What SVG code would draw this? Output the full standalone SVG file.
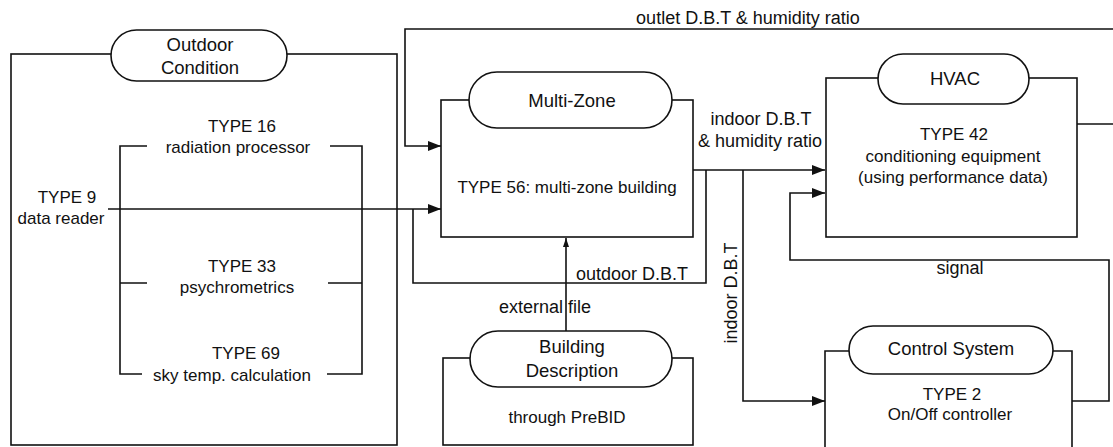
<svg xmlns="http://www.w3.org/2000/svg" width="1113" height="447" viewBox="0 0 1113 447">
<style>
.ln{fill:none;stroke:#111;stroke-width:1.6}
.bx{fill:#fff;stroke:#111;stroke-width:1.6}
.pill{fill:#fff;stroke:#111;stroke-width:1.6}
text{font-family:"Liberation Sans",Arial,sans-serif;fill:#111;text-anchor:middle}
.tt{font-size:18.5px}
.bd{font-size:17px}
.lb{font-size:18px}
</style>
<defs>
<marker id="ah" markerUnits="userSpaceOnUse" markerWidth="14" markerHeight="11" refX="13" refY="5" orient="auto">
<path d="M0,0 L13,5 L0,10 z" fill="#111"/>
</marker>
<marker id="ahs" markerUnits="userSpaceOnUse" markerWidth="10" markerHeight="7" refX="9" refY="3" orient="auto">
<path d="M0,0 L9,3 L0,6 z" fill="#111"/>
</marker>
</defs>

<g id="outdoor">
<rect class="bx" x="11" y="54" width="386" height="391"/>
<rect class="pill" x="111" y="30" width="176" height="51" rx="25.5"/>
<text class="tt" x="200" y="51">Outdoor</text>
<text class="tt" x="200" y="74">Condition</text>
<path class="ln" d="M147,146 H120 V374 H142 M120,283 H147 M330,146 H362 V374 H327 M328,283 H362"/>
<text class="bd" x="242" y="132">TYPE 16</text>
<text class="bd" x="238" y="153">radiation processor</text>
<text class="bd" x="242" y="272">TYPE 33</text>
<text class="bd" x="237" y="293">psychrometrics</text>
<text class="bd" x="246" y="359">TYPE 69</text>
<text class="bd" x="232" y="381">sky temp. calculation</text>
<text class="bd" x="67" y="203">TYPE 9</text>
<text class="bd" x="61" y="224">data reader</text>
</g>

<g id="multizone">
<rect class="bx" x="441" y="100" width="252" height="137"/>
<rect class="pill" x="469" y="72" width="203" height="56" rx="28"/>
<text class="tt" x="572" y="107">Multi-Zone</text>
<text class="bd" x="567" y="193">TYPE 56: multi-zone building</text>
</g>

<g id="hvac">
<rect class="bx" x="826" y="78" width="251" height="159"/>
<rect class="pill" x="878" y="54" width="151" height="50" rx="25"/>
<text class="tt" x="955" y="85">HVAC</text>
<text class="bd" x="954" y="140">TYPE 42</text>
<text class="bd" x="953" y="162">conditioning equipment</text>
<text class="bd" x="953" y="183">(using performance data)</text>
</g>

<g id="control">
<path class="ln" d="M825,448 V351 H1072 V448"/>
<rect class="pill" x="849" y="326" width="204" height="48" rx="24"/>
<text class="tt" x="951" y="355">Control System</text>
<text class="bd" x="952" y="400">TYPE 2</text>
<text class="bd" x="950" y="420">On/Off controller</text>
</g>

<g id="building">
<rect class="bx" x="443" y="358" width="250" height="87"/>
<rect class="pill" x="470" y="331" width="202" height="56" rx="28"/>
<text class="tt" x="572" y="353">Building</text>
<text class="tt" x="572" y="377">Description</text>
<text class="bd" x="567" y="423">through PreBID</text>
</g>

<g id="connectors">
<path class="ln" d="M1113,29 H405 V146 H441" marker-end="url(#ah)"/>
<path class="ln" d="M1077,124 H1113"/>
<path class="ln" d="M108,209 H441" marker-end="url(#ah)"/>
<path class="ln" d="M413,209 V283 H706 V170"/>
<path class="ln" d="M693,170 H825" marker-end="url(#ah)"/>
<path class="ln" d="M743,170 V401 H825" marker-end="url(#ah)"/>
<path class="ln" d="M1072,401 H1109 V260 H790 V193 H825" marker-end="url(#ah)"/>
<path class="ln" d="M566,331 V238" marker-end="url(#ahs)"/>
<text class="lb" x="748" y="24">outlet D.B.T &amp; humidity ratio</text>
<text class="lb" x="761" y="125">indoor D.B.T</text>
<text class="lb" x="760" y="147">&amp; humidity ratio</text>
<text class="lb" x="632" y="280">outdoor D.B.T</text>
<text class="lb" x="545" y="313">external file</text>
<text class="lb" x="960" y="274">signal</text>
<text class="lb" transform="translate(737,293) rotate(-90)">indoor D.B.T</text>
</g>
</svg>
